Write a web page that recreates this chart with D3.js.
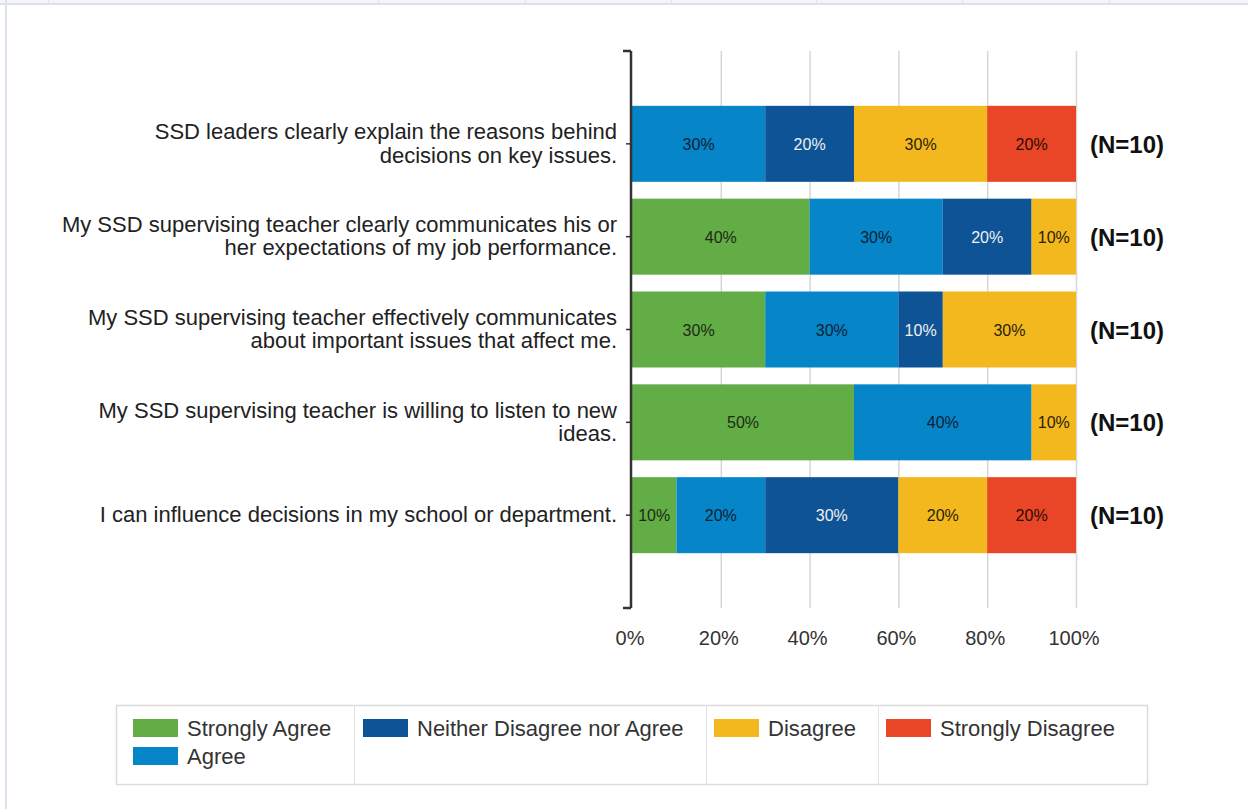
<!DOCTYPE html>
<html><head><meta charset="utf-8">
<script src="https://cdn.jsdelivr.net/npm/d3@7"></script>
<style>
html,body{margin:0;padding:0;background:#fff;}
svg{display:block;font-family:"Liberation Sans",Arial,sans-serif;}
</style></head>
<body>
<svg id="c" width="1248" height="809"></svg>
<script>
const categories = [
  ["SSD leaders clearly explain the reasons behind","decisions on key issues."],
  ["My SSD supervising teacher clearly communicates his or","her expectations of my job performance."],
  ["My SSD supervising teacher effectively communicates","about important issues that affect me."],
  ["My SSD supervising teacher is willing to listen to new","ideas."],
  ["I can influence decisions in my school or department."]
];
const seriesNames = ["Strongly Agree","Agree","Neither Disagree nor Agree","Disagree","Strongly Disagree"];
const stronglyAgree = [0, 40, 30, 50, 10];
const agree         = [30, 30, 30, 40, 20];
const neither       = [20, 20, 10, 0, 30];
const disagree      = [30, 10, 30, 10, 20];
const stronglyDisagree = [20, 0, 0, 0, 20];
const nLabels = ["(N=10)","(N=10)","(N=10)","(N=10)","(N=10)"];
const xTicks = [0, 20, 40, 60, 80, 100];
const colors = ["#62ad46","#0685c8","#0e5396","#f2b81e","#e84627"];
const labelColors = ["#1e2a14","#0b2233","#f0f0f0","#2a2208","#2a0c06"];

const svg = d3.select("#c");

// page frame
svg.append("rect").attr("x",0).attr("y",0).attr("width",1248).attr("height",3).attr("fill","#f4f5f9");
svg.append("rect").attr("x",0).attr("y",3).attr("width",1248).attr("height",2).attr("fill","#dde1ef");
svg.append("rect").attr("x",5).attr("y",0).attr("width",2).attr("height",809).attr("fill","#dde1ef");
[48,378,525,671,816,962,1109].forEach(x=>{
  svg.append("rect").attr("x",x).attr("y",0).attr("width",1).attr("height",3).attr("fill","#dde1ef");
});

const x = d3.scaleLinear().domain([0,100]).range([632,1076]);
const y = d3.scaleLinear().domain([0,6]).range([51,608]);
const bandH = 76;

// gridlines
svg.append("g").selectAll("line").data(xTicks.filter(d=>d>0)).join("line")
  .attr("x1",d=>x(d)+0.5).attr("x2",d=>x(d)+0.5)
  .attr("y1",y(0)).attr("y2",y(6))
  .attr("stroke","#d6d6d6").attr("stroke-width",1.5);

// stacked data
const rows = categories.map((c,i)=>({i, vals:[stronglyAgree[i],agree[i],neither[i],disagree[i],stronglyDisagree[i]]}));
const segs = [];
rows.forEach(r=>{
  let acc=0;
  r.vals.forEach((v,k)=>{ if(v>0){segs.push({row:r.i,k,x0:acc,x1:acc+v,v});} acc+=v; });
});

const g = svg.append("g");
g.selectAll("rect").data(segs).join("rect")
  .attr("x",d=>x(d.x0)).attr("width",d=>x(d.x1)-x(d.x0))
  .attr("y",d=>y(d.row+1)-bandH/2).attr("height",bandH)
  .attr("fill",d=>colors[d.k]);
g.selectAll("text").data(segs).join("text")
  .attr("x",d=>(x(d.x0)+x(d.x1))/2).attr("y",d=>y(d.row+1)+6)
  .attr("text-anchor","middle").attr("font-size",16)
  .attr("fill",d=>labelColors[d.k])
  .text(d=>d.v+"%");

// N labels
svg.append("g").selectAll("text").data(nLabels).join("text")
  .attr("x",1090).attr("y",(d,i)=>y(i+1)+9)
  .attr("font-size",24).attr("font-weight","bold").attr("fill","#111")
  .text(d=>d);

// y axis
const axisX = 631;
svg.append("line").attr("x1",axisX).attr("x2",axisX).attr("y1",y(0)).attr("y2",y(6))
  .attr("stroke","#333").attr("stroke-width",2.5);
svg.append("g").selectAll("line").data([0,1,2,3,4,5,6]).join("line")
  .attr("x1",d=>(d===0||d===6)?623:626).attr("x2",axisX)
  .attr("y1",d=>y(d)).attr("y2",d=>y(d))
  .attr("stroke","#333").attr("stroke-width",d=>(d===0||d===6)?2.5:1.5);

// category labels
const cl = svg.append("g").attr("font-size",22).attr("fill","#222").attr("text-anchor","end");
categories.forEach((lines,i)=>{
  const cy = y(i+1);
  const n = lines.length;
  lines.forEach((t,j)=>{
    cl.append("text").attr("x",617).attr("y",cy + (j-(n-1)/2)*23.5 + 7).text(t);
  });
});

// x tick labels
svg.append("g").selectAll("text").data(xTicks).join("text")
  .attr("x",d=>x(d)-2).attr("y",645).attr("text-anchor","middle")
  .attr("font-size",20).attr("fill","#333").text(d=>d+"%");

// legend
const lg = svg.append("g");
lg.append("rect").attr("x",116.5).attr("y",705.5).attr("width",1031).attr("height",79)
  .attr("fill","#fff").attr("stroke","#dcdcdc").attr("stroke-width",1.5);
[354,706,878].forEach(xx=>{
  lg.append("line").attr("x1",xx+0.5).attr("x2",xx+0.5).attr("y1",706).attr("y2",784)
    .attr("stroke","#e2e2e2").attr("stroke-width",1);
});
const legPos = [[133,719],[133,747],[363,719],[714,719],[886,719]];
seriesNames.forEach((s,k)=>{
  const [lx,ly] = legPos[k];
  lg.append("rect").attr("x",lx).attr("y",ly).attr("width",45).attr("height",18).attr("fill",colors[k]);
  lg.append("text").attr("x",lx+54).attr("y",ly+17).attr("font-size",22).attr("fill","#333").text(s);
});
</script>
</body></html>
